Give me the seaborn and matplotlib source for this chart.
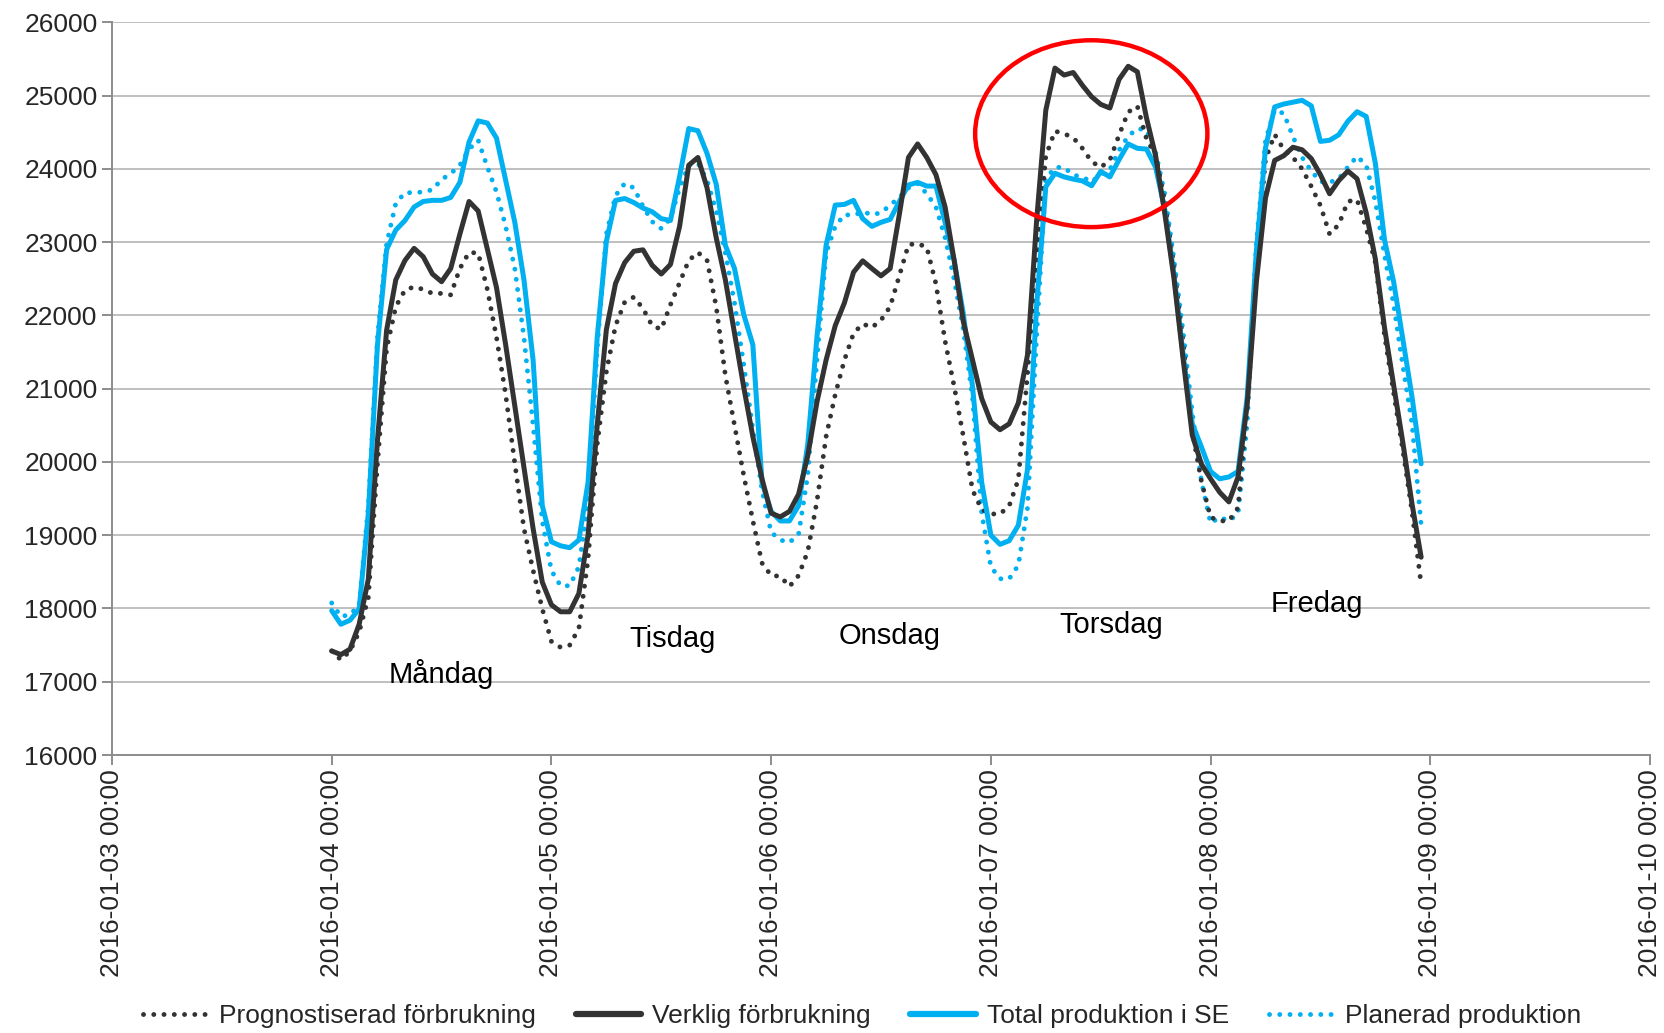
import numpy as np
import pandas as pd
import matplotlib
matplotlib.use("Agg")
import matplotlib.pyplot as plt
import matplotlib.dates as mdates
from matplotlib.patches import Ellipse
from matplotlib.lines import Line2D
import seaborn as sns

# ---------------- data (hourly, 2016-01-04 00:00 .. 2016-01-08 23:00) ----------------
prognos_mon = [17420, 17300, 17420, 17680, 18150, 19980, 21550, 22120, 22345, 22390, 22355, 22300,
               22300, 22280, 22640, 22860, 22850, 22355, 21700, 20920, 19980, 19090, 18520, 17995]
prognos_tue = [17550, 17470, 17500, 17730, 18670, 20240, 21230, 21860, 22180, 22250, 22095, 21860,
               21810, 22145, 22445, 22750, 22860, 22750, 22120, 21180, 20500, 19820, 19200, 18620]
prognos_wed = [18450, 18440, 18300, 18450, 18780, 19460, 20345, 20920, 21390, 21755, 21885, 21835,
               21935, 22120, 22540, 22965, 22980, 22930, 22430, 21650, 21025, 20345, 19615, 19350]
prognos_thu = [19290, 19290, 19400, 19760, 21200, 22765, 24175, 24515, 24480, 24425, 24280, 24100,
               24020, 24120, 24460, 24775, 24855, 24410, 24175, 23550, 22660, 21615, 20415, 19735]
prognos_fri = [19245, 19195, 19195, 19375, 20785, 22770, 24130, 24470, 24260, 24155, 24000, 23760,
               23500, 23110, 23240, 23555, 23580, 23190, 22720, 21725, 20940, 20160, 19325, 18330]

verklig_mon = [17420, 17370, 17445, 17785, 18400, 20300, 21800, 22485, 22750, 22915, 22800, 22565,
               22460, 22640, 23110, 23555, 23425, 22905, 22380, 21600, 20765, 19925, 19090, 18360]
verklig_tue = [18050, 17955, 17955, 18205, 19000, 20500, 21805, 22435, 22720, 22875, 22895, 22685,
               22565, 22695, 23215, 24050, 24155, 23740, 23060, 22485, 21755, 21025, 20345, 19770]
verklig_wed = [19300, 19250, 19325, 19560, 20085, 20815, 21390, 21860, 22170, 22590, 22745, 22640,
               22540, 22640, 23375, 24155, 24340, 24155, 23920, 23480, 22745, 21910, 21390, 20865]
verklig_thu = [20545, 20440, 20520, 20805, 21460, 23300, 24800, 25375, 25280, 25315, 25140, 24985,
               24880, 24830, 25220, 25400, 25325, 24695, 24175, 23390, 22505, 21405, 20365, 19970]
verklig_fri = [19770, 19585, 19455, 19795, 20785, 22455, 23605, 24115, 24180, 24295, 24260, 24140,
               23920, 23660, 23840, 23970, 23865, 23400, 22770, 21830, 21045, 20265, 19430, 18700]

total_mon = [17970, 17785, 17840, 17995, 19300, 21600, 22900, 23165, 23295, 23480, 23555, 23570,
             23570, 23610, 23815, 24365, 24655, 24625, 24420, 23845, 23270, 22485, 21390, 19405]
total_tue = [18910, 18855, 18830, 18935, 19720, 21700, 23010, 23570, 23595, 23540, 23465, 23415,
             23320, 23295, 23895, 24550, 24520, 24210, 23790, 22955, 22640, 22015, 21600, 19720]
total_wed = [19325, 19195, 19195, 19405, 20240, 21700, 22955, 23505, 23515, 23570, 23320, 23215,
             23270, 23310, 23555, 23780, 23815, 23765, 23765, 23270, 22745, 22015, 21025, 19720]
total_thu = [19000, 18875, 18925, 19135, 19895, 22140, 23755, 23940, 23890, 23860, 23835, 23770,
             23965, 23890, 24125, 24340, 24280, 24270, 24020, 23445, 22555, 21460, 20520, 20205]
total_fri = [19870, 19770, 19795, 19870, 20890, 22875, 24285, 24845, 24885, 24910, 24935, 24860,
             24375, 24390, 24465, 24650, 24780, 24715, 24075, 23030, 22455, 21675, 20890, 19975]

planerad_mon = [18075, 17890, 17915, 18045, 19400, 21700, 22980, 23530, 23675, 23675, 23685, 23715,
                23855, 23935, 24050, 24270, 24390, 24025, 23685, 23215, 22640, 21700, 20500, 19195]
planerad_tue = [18515, 18310, 18310, 18570, 19455, 21545, 23110, 23635, 23800, 23740, 23490, 23280,
                23185, 23320, 23740, 24050, 24080, 23845, 23425, 22850, 22170, 21335, 20450, 19615]
planerad_wed = [19040, 18935, 18900, 19015, 19820, 21390, 22850, 23215, 23375, 23365, 23415, 23375,
                23400, 23505, 23610, 23740, 23800, 23660, 23480, 23060, 22485, 21805, 20865, 19300]
planerad_thu = [18570, 18405, 18405, 18590, 19370, 21720, 23860, 24020, 24020, 23915, 23890, 23820,
                23925, 23990, 24255, 24445, 24550, 24530, 24225, 23655, 22765, 21775, 20675, 19735]
planerad_fri = [19165, 19245, 19195, 19295, 20525, 22980, 24390, 24805, 24755, 24440, 24155, 23970,
                23825, 23815, 23865, 24025, 24170, 24050, 23555, 22820, 22145, 21310, 20525, 19140]

series_names = ["Prognostiserad förbrukning", "Verklig förbrukning",
                "Total produktion i SE", "Planerad produktion"]
day_labels = ["Måndag", "Tisdag", "Onsdag", "Torsdag", "Fredag"]
day_label_pos = [("2016-01-04 11:57", 17100), ("2016-01-05 13:12", 17590),
                 ("2016-01-06 12:56", 17620), ("2016-01-07 13:10", 17770),
                 ("2016-01-08 11:38", 18060)]

prognos = prognos_mon + prognos_tue + prognos_wed + prognos_thu + prognos_fri
verklig = verklig_mon + verklig_tue + verklig_wed + verklig_thu + verklig_fri
total = total_mon + total_tue + total_wed + total_thu + total_fri
planerad = planerad_mon + planerad_tue + planerad_wed + planerad_thu + planerad_fri
times = pd.date_range("2016-01-04 00:00", periods=len(prognos), freq="h")

df = pd.DataFrame({"time": times, series_names[0]: prognos, series_names[1]: verklig,
                   series_names[2]: total, series_names[3]: planerad})

# ---------------- style ----------------
sns.set_theme(style="white")
plt.rcParams["font.family"] = ["Liberation Sans", "DejaVu Sans"]

DARK = "#333333"
BLUE = "#00B0F0"
GRID = "#BFBFBF"
SPINE = "#8C8C8C"
TXT = "#262626"
dots = (0, (0.01, 2.1))

fig = plt.figure(figsize=(16.64, 10.33), dpi=100)
ax = fig.add_axes([0.0673, 0.2691, 0.9243, 0.7093])

LW_DOT = 3.5
LW_SOLID = 3.6
styles = [
    dict(color=DARK, linestyle=dots, dash_capstyle="round"),
    dict(color=DARK, linestyle="-"),
    dict(color=BLUE, linestyle="-"),
    dict(color=BLUE, linestyle=dots, dash_capstyle="round"),
]
widths = [LW_DOT, LW_SOLID, LW_SOLID, LW_DOT]
order = [3, 0, 2, 1]  # draw order: planerad, prognos, total, verklig
zorders = {0: 4, 1: 6, 2: 5, 3: 3}
for i in order:
    sns.lineplot(data=df, x="time", y=series_names[i], ax=ax, linewidth=widths[i],
                 zorder=zorders[i], legend=False, **styles[i])

# ---------------- axes ----------------
ax.set_xlim(pd.Timestamp("2016-01-03"), pd.Timestamp("2016-01-10"))
ax.set_ylim(16000, 26000)
ax.set_yticks(np.arange(16000, 26001, 1000))
ax.xaxis.set_major_locator(mdates.DayLocator())
ax.xaxis.set_major_formatter(mdates.DateFormatter("%Y-%m-%d %H:%M"))
ax.set_xlabel("")
ax.set_ylabel("")
ax.yaxis.grid(True, color=GRID, linewidth=1.4)
ax.xaxis.grid(False)
ax.set_axisbelow(True)
for s in ["top", "right"]:
    ax.spines[s].set_visible(False)
for s in ["left", "bottom"]:
    ax.spines[s].set_color(SPINE)
    ax.spines[s].set_linewidth(1.4)
ax.tick_params(axis="both", which="major", labelsize=19, colors=SPINE, labelcolor=TXT,
               length=7, width=1.4, direction="out", bottom=True, left=True)
plt.setp(ax.get_xticklabels(), rotation=90, ha="center", va="top")

# day annotations
for lab, (t, v) in zip(day_labels, day_label_pos):
    ax.text(pd.Timestamp(t), v, lab, fontsize=21, color="black", ha="center", va="center")

# red ellipse
cx = mdates.date2num(pd.Timestamp("2016-01-07 10:58"))
ax.add_patch(Ellipse((cx, 24480), width=1.057, height=2550, fill=False,
                     edgecolor="#FF0000", linewidth=3.2, zorder=8))

# legend
handles = [Line2D([], [], linewidth=LW_DOT, **styles[0]),
           Line2D([], [], linewidth=4.5, **styles[1]),
           Line2D([], [], linewidth=4.5, **styles[2]),
           Line2D([], [], linewidth=LW_DOT, **styles[3])]
fig.legend(handles, series_names, loc="center", bbox_to_anchor=(0.518, 0.0165), ncol=4,
           frameon=False, fontsize=19, handlelength=2.5, handletextpad=0.4,
           columnspacing=1.5, labelcolor=TXT)

fig.savefig("out.png", dpi=100)
